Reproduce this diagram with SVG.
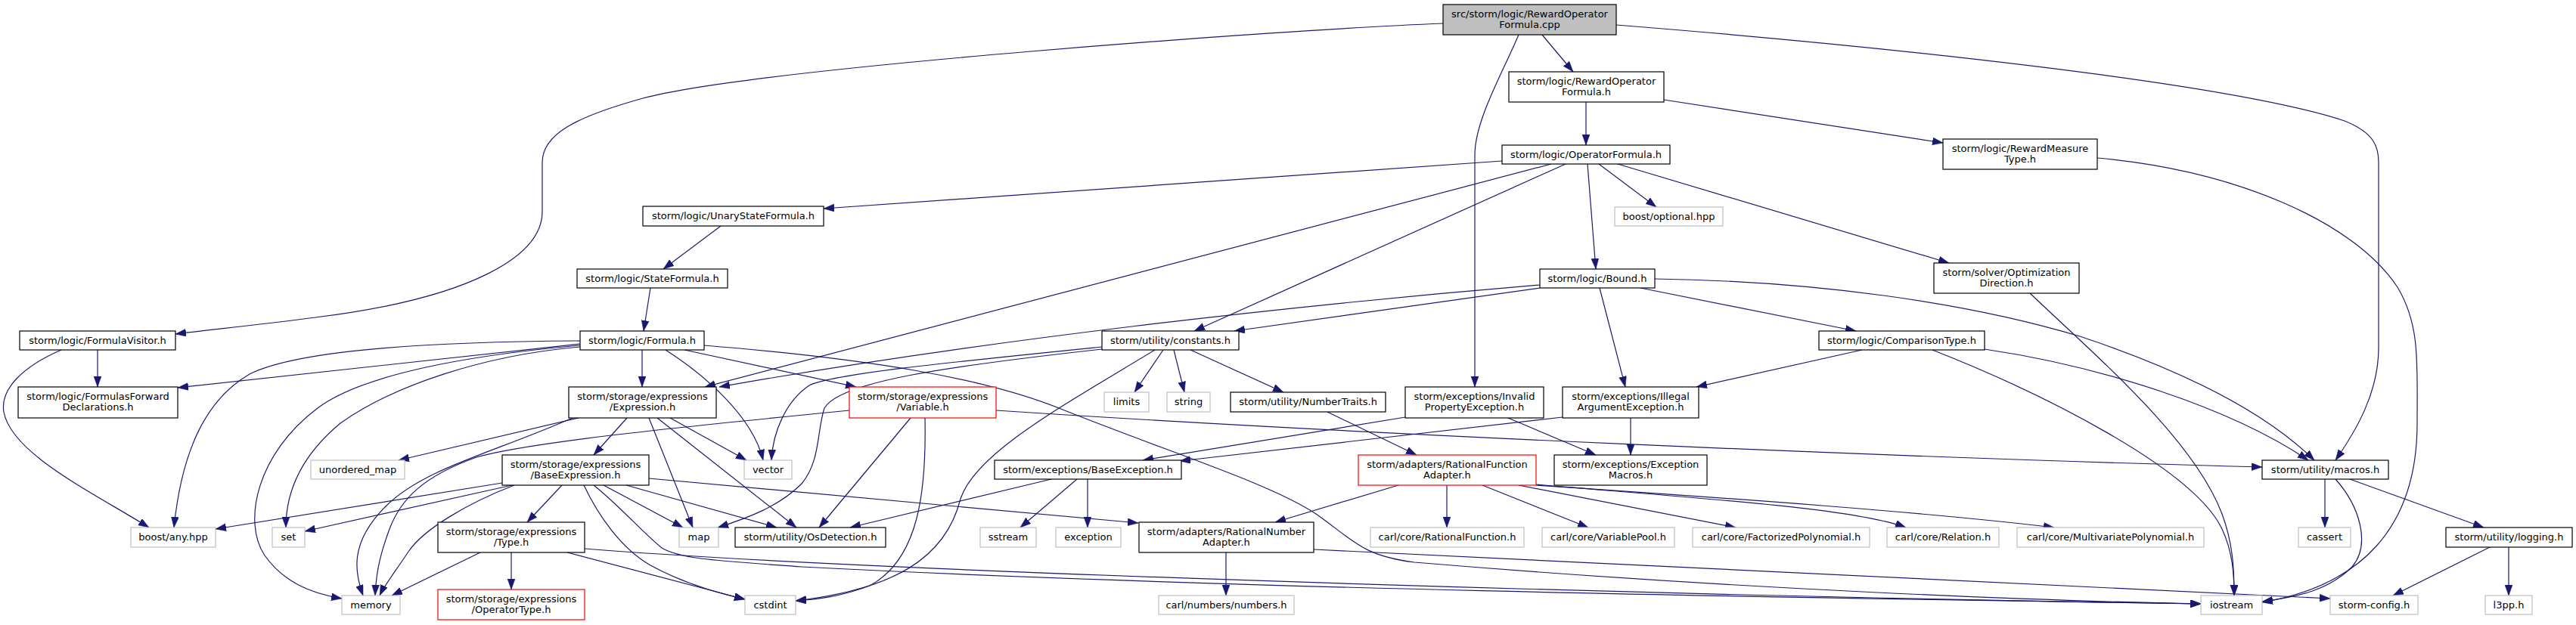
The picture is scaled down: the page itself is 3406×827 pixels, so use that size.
<svg xmlns="http://www.w3.org/2000/svg" width="3406" height="827" viewBox="0 0 3406 827">
<style>
.n rect{fill:#fff;stroke:#000;stroke-width:1.2}
.g rect{stroke:#bfbfbf}
.r rect{stroke:#f00}
.root rect{fill:#bfbfbf}
text{font-family:'DejaVu Sans','Liberation Sans',sans-serif;font-size:13px;text-anchor:middle;fill:#000}
.e path{fill:none;stroke:#191970;stroke-width:1.2;marker-end:url(#a)}
</style>
<defs>
<marker id="a" markerUnits="userSpaceOnUse" markerWidth="15" markerHeight="11" refX="14" refY="5" orient="auto">
<path d="M0,0 L14,5 L0,10 z" fill="#191970" stroke="#191970" stroke-width="0.5"/>
</marker>
</defs>
<rect width="3406" height="827" fill="#fff"/>
<g class="e" id="edges">
<path d="M2039,46 L2080,95"/>
<path d="M1908,31 C1700,39 1000,90 850,130 C760,155 717,178 717,215 L717,280 C717,340 620,395 417,420 C340,430 280,436 232,442"/>
<path d="M2008,46 C1985,100 1950,160 1950,205 L1950,512"/>
<path d="M2137,33 C2500,62 2950,110 3100,160 C3140,176 3145,195 3145,215 L3145,460 C3145,520 3115,570 3088,609"/>
<path d="M2097,135 L2097,192"/>
<path d="M2200,132 L2569,189"/>
<path d="M1986,213 L1089,276"/>
<path d="M2051,217 L932,512"/>
<path d="M2070,217 L1579,438"/>
<path d="M2114,217 L2190,274"/>
<path d="M2099,217 L2110,356"/>
<path d="M2139,217 L2577,348"/>
<path d="M2773,209 C2950,225 3110,290 3170,380 C3200,430 3196,480 3196,560 C3196,700 3120,775 2991,797"/>
<path d="M953,299 L877,356"/>
<path d="M860,381 L851,438"/>
<path d="M2684,388 C2770,470 2900,580 2938,680 C2952,718 2954,750 2954,788"/>
<path d="M2036,377 C1700,405 1300,450 951,512"/>
<path d="M2036,381 L1632,438"/>
<path d="M2115,381 L2149,512"/>
<path d="M2169,381 L2454,438"/>
<path d="M2188,369 C2400,372 2600,400 2750,445 C2900,495 3000,550 3060,609"/>
<path d="M129,463 L129,512"/>
<path d="M81,463 C30,485 0,515 5,545 C15,600 120,650 197,698"/>
<path d="M767,451 C600,452 400,460 330,495 C270,530 240,600 230,698"/>
<path d="M767,455 L235,513"/>
<path d="M767,457 C620,470 480,495 420,540 C340,600 320,690 350,735 C375,770 410,785 452,792"/>
<path d="M767,459 C640,470 520,510 450,560 C390,610 378,660 378,698"/>
<path d="M849,463 L849,512"/>
<path d="M880,463 C930,495 995,550 1009,609"/>
<path d="M905,463 L1132,512"/>
<path d="M931,457 C1150,475 1300,500 1400,540 C1550,600 1680,640 1740,680 C1790,715 1800,735 1870,744 C2300,780 2700,795 2910,799"/>
<path d="M1457,459 C1250,480 1100,495 1070,510 C1040,530 1022,570 1020,609"/>
<path d="M1457,462 C1250,485 1110,505 1090,540 C1080,570 1085,610 1060,640 C1030,670 990,685 949,698"/>
<path d="M1527,463 C1400,540 1290,600 1270,660 C1250,740 1180,780 1052,795"/>
<path d="M1538,463 L1500,519"/>
<path d="M1552,463 L1566,519"/>
<path d="M1574,463 L1697,519"/>
<path d="M2462,463 L2243,512"/>
<path d="M2624,462 C2780,485 2950,540 3052,609"/>
<path d="M2555,463 C2700,520 2900,620 2938,700 C2952,730 2954,760 2954,788"/>
<path d="M765,553 L527,609"/>
<path d="M757,553 C650,600 560,620 510,670 C460,720 470,760 480,788"/>
<path d="M829,553 L785,602"/>
<path d="M858,553 L916,698"/>
<path d="M869,553 L1053,698"/>
<path d="M886,553 L987,609"/>
<path d="M1123,543 C900,565 700,585 630,605 C560,630 530,660 515,700 C500,740 497,765 496,788"/>
<path d="M1204,553 L1083,698"/>
<path d="M1223,553 C1225,650 1215,740 1150,775 C1110,790 1080,793 1052,795"/>
<path d="M1317,543 C1800,575 2500,605 2991,618"/>
<path d="M1755,545 L1873,602"/>
<path d="M1858,552 L1511,609"/>
<path d="M1994,553 L2110,602"/>
<path d="M2066,552 L1560,610"/>
<path d="M2156,553 L2156,602"/>
<path d="M664,639 L285,700"/>
<path d="M677,642 L403,703"/>
<path d="M680,642 C620,665 560,700 540,730 C520,760 508,775 502,788"/>
<path d="M743,642 L697,691"/>
<path d="M772,642 C790,680 820,725 860,748 C900,770 950,785 985,793"/>
<path d="M785,642 C820,670 850,705 875,725 C900,740 950,742 1060,750 C1600,778 2300,790 2910,799"/>
<path d="M798,642 L903,698"/>
<path d="M828,642 L1027,698"/>
<path d="M858,633 L1505,692"/>
<path d="M635,731 L518,788"/>
<path d="M676,731 L676,780"/>
<path d="M773,726 C1200,760 2300,790 2910,799"/>
<path d="M750,731 L985,793"/>
<path d="M1390,634 L1124,698"/>
<path d="M1424,634 L1349,698"/>
<path d="M1438,634 L1438,698"/>
<path d="M1849,642 L1686,691"/>
<path d="M1913,642 L1913,698"/>
<path d="M1960,642 L2100,698"/>
<path d="M2008,642 L2295,698"/>
<path d="M2031,641 C2250,660 2450,672 2520,698"/>
<path d="M2031,642 C2300,660 2550,678 2716,698"/>
<path d="M1621,731 L1621,788"/>
<path d="M1737,727 C2200,751 2800,775 3081,792"/>
<path d="M3074,634 L3074,698"/>
<path d="M3088,634 C3120,670 3135,720 3110,750 C3080,780 3040,790 2991,796"/>
<path d="M3107,634 L3284,698"/>
<path d="M3292,724 L3164,788"/>
<path d="M3317,724 L3317,788"/>
</g>
<g id="n1" class="n root"><rect x="1908" y="6" width="229" height="40"/><text x="2022.5" y="23">src/storm/logic/RewardOperator</text><text x="2022.5" y="37">Formula.cpp</text></g>
<g id="n2" class="n"><rect x="1995" y="95" width="205" height="40"/><text x="2097.5" y="112">storm/logic/RewardOperator</text><text x="2097.5" y="126">Formula.h</text></g>
<g id="n3" class="n"><rect x="1986" y="192" width="222" height="25"/><text x="2097" y="208.5">storm/logic/OperatorFormula.h</text></g>
<g id="n4" class="n"><rect x="2569" y="184" width="204" height="40"/><text x="2671" y="201">storm/logic/RewardMeasure</text><text x="2671" y="215">Type.h</text></g>
<g id="n5" class="n"><rect x="850" y="273" width="239" height="26"/><text x="969.5" y="290">storm/logic/UnaryStateFormula.h</text></g>
<g id="n6" class="n g"><rect x="2135" y="274" width="143" height="25"/><text x="2206.5" y="290.5">boost/optional.hpp</text></g>
<g id="n7" class="n"><rect x="2557" y="348" width="192" height="40"/><text x="2653" y="365">storm/solver/Optimization</text><text x="2653" y="379">Direction.h</text></g>
<g id="n8" class="n"><rect x="763" y="356" width="199" height="25"/><text x="862.5" y="372.5">storm/logic/StateFormula.h</text></g>
<g id="n9" class="n"><rect x="2036" y="356" width="152" height="25"/><text x="2112" y="372.5">storm/logic/Bound.h</text></g>
<g id="n10" class="n"><rect x="26" y="438" width="206" height="25"/><text x="129" y="454.5">storm/logic/FormulaVisitor.h</text></g>
<g id="n11" class="n"><rect x="767" y="438" width="164" height="25"/><text x="849" y="454.5">storm/logic/Formula.h</text></g>
<g id="n12" class="n"><rect x="1457" y="438" width="181" height="25"/><text x="1547.5" y="454.5">storm/utility/constants.h</text></g>
<g id="n13" class="n"><rect x="2405" y="438" width="219" height="25"/><text x="2514.5" y="454.5">storm/logic/ComparisonType.h</text></g>
<g id="n14" class="n"><rect x="24" y="512" width="211" height="41"/><text x="129.5" y="529">storm/logic/FormulasForward</text><text x="129.5" y="543">Declarations.h</text></g>
<g id="n15" class="n"><rect x="752" y="512" width="195" height="41"/><text x="849.5" y="529">storm/storage/expressions</text><text x="849.5" y="543">/Expression.h</text></g>
<g id="n16" class="n r"><rect x="1123" y="512" width="194" height="41"/><text x="1220" y="529">storm/storage/expressions</text><text x="1220" y="543">/Variable.h</text></g>
<g id="n17" class="n g"><rect x="1460" y="519" width="59" height="26"/><text x="1489.5" y="536">limits</text></g>
<g id="n18" class="n g"><rect x="1543" y="519" width="57" height="26"/><text x="1571.5" y="536">string</text></g>
<g id="n19" class="n"><rect x="1627" y="519" width="205" height="26"/><text x="1729.5" y="536">storm/utility/NumberTraits.h</text></g>
<g id="n20" class="n"><rect x="1858" y="512" width="183" height="41"/><text x="1949.5" y="529">storm/exceptions/Invalid</text><text x="1949.5" y="543">PropertyException.h</text></g>
<g id="n21" class="n"><rect x="2066" y="512" width="180" height="41"/><text x="2156" y="529">storm/exceptions/Illegal</text><text x="2156" y="543">ArgumentException.h</text></g>
<g id="n22" class="n g"><rect x="411" y="609" width="124" height="25"/><text x="473" y="625.5">unordered_map</text></g>
<g id="n23" class="n"><rect x="664" y="602" width="194" height="40"/><text x="761" y="619">storm/storage/expressions</text><text x="761" y="633">/BaseExpression.h</text></g>
<g id="n24" class="n g"><rect x="984" y="609" width="63" height="25"/><text x="1015.5" y="625.5">vector</text></g>
<g id="n25" class="n"><rect x="1315" y="609" width="247" height="25"/><text x="1438.5" y="625.5">storm/exceptions/BaseException.h</text></g>
<g id="n26" class="n r"><rect x="1796" y="602" width="235" height="40"/><text x="1913.5" y="619">storm/adapters/RationalFunction</text><text x="1913.5" y="633">Adapter.h</text></g>
<g id="n27" class="n"><rect x="2055" y="602" width="202" height="40"/><text x="2156" y="619">storm/exceptions/Exception</text><text x="2156" y="633">Macros.h</text></g>
<g id="n28" class="n"><rect x="2991" y="609" width="167" height="25"/><text x="3074.5" y="625.5">storm/utility/macros.h</text></g>
<g id="n29" class="n g"><rect x="173" y="698" width="112" height="26"/><text x="229" y="715">boost/any.hpp</text></g>
<g id="n30" class="n g"><rect x="360" y="698" width="43" height="26"/><text x="381.5" y="715">set</text></g>
<g id="n31" class="n"><rect x="579" y="691" width="194" height="40"/><text x="676" y="708">storm/storage/expressions</text><text x="676" y="722">/Type.h</text></g>
<g id="n32" class="n g"><rect x="898" y="698" width="52" height="26"/><text x="924" y="715">map</text></g>
<g id="n33" class="n"><rect x="972" y="698" width="199" height="26"/><text x="1071.5" y="715">storm/utility/OsDetection.h</text></g>
<g id="n34" class="n g"><rect x="1296" y="698" width="74" height="26"/><text x="1333" y="715">sstream</text></g>
<g id="n35" class="n g"><rect x="1396" y="698" width="86" height="26"/><text x="1439" y="715">exception</text></g>
<g id="n36" class="n"><rect x="1506" y="691" width="231" height="40"/><text x="1621.5" y="708">storm/adapters/RationalNumber</text><text x="1621.5" y="722">Adapter.h</text></g>
<g id="n37" class="n g"><rect x="1812" y="698" width="203" height="26"/><text x="1913.5" y="715">carl/core/RationalFunction.h</text></g>
<g id="n38" class="n g"><rect x="2039" y="698" width="175" height="26"/><text x="2126.5" y="715">carl/core/VariablePool.h</text></g>
<g id="n39" class="n g"><rect x="2238" y="698" width="234" height="26"/><text x="2355" y="715">carl/core/FactorizedPolynomial.h</text></g>
<g id="n40" class="n g"><rect x="2495" y="698" width="148" height="26"/><text x="2569" y="715">carl/core/Relation.h</text></g>
<g id="n41" class="n g"><rect x="2667" y="698" width="247" height="26"/><text x="2790.5" y="715">carl/core/MultivariatePolynomial.h</text></g>
<g id="n42" class="n g"><rect x="3039" y="698" width="69" height="26"/><text x="3073.5" y="715">cassert</text></g>
<g id="n43" class="n"><rect x="3234" y="698" width="167" height="26"/><text x="3317.5" y="715">storm/utility/logging.h</text></g>
<g id="n44" class="n g"><rect x="452" y="788" width="77" height="25"/><text x="490.5" y="804.5">memory</text></g>
<g id="n45" class="n r"><rect x="579" y="780" width="194" height="40"/><text x="676" y="797">storm/storage/expressions</text><text x="676" y="811">/OperatorType.h</text></g>
<g id="n46" class="n g"><rect x="985" y="788" width="67" height="25"/><text x="1018.5" y="804.5">cstdint</text></g>
<g id="n47" class="n g"><rect x="1532" y="788" width="179" height="25"/><text x="1621.5" y="804.5">carl/numbers/numbers.h</text></g>
<g id="n48" class="n g"><rect x="2910" y="788" width="81" height="25"/><text x="2950.5" y="804.5">iostream</text></g>
<g id="n49" class="n g"><rect x="3081" y="788" width="116" height="25"/><text x="3139" y="804.5">storm-config.h</text></g>
<g id="n50" class="n g"><rect x="3286" y="788" width="62" height="25"/><text x="3317" y="804.5">l3pp.h</text></g>
</svg>
